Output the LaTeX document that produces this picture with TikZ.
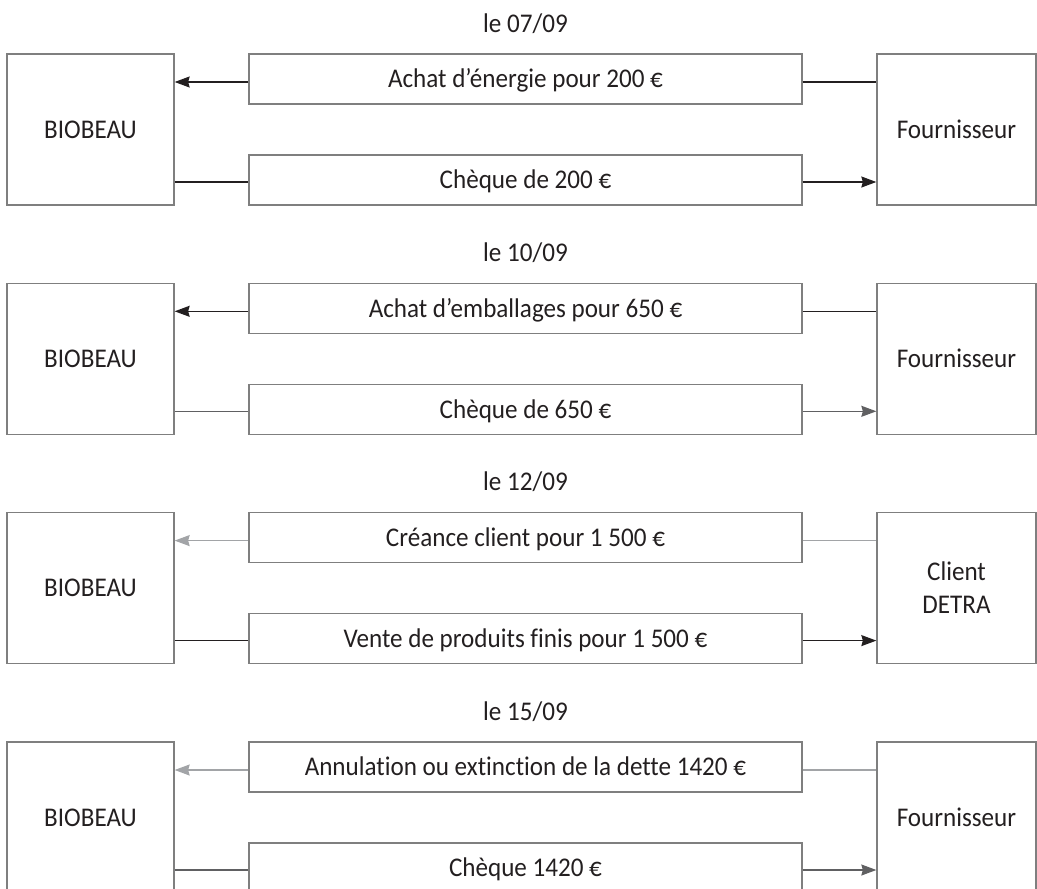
\documentclass[tikz,border=0pt]{standalone}
\usepackage{fontspec}
\setmainfont[FakeStretch=0.93, Ligatures=NoCommon]{Carlito}
\usetikzlibrary{arrows.meta}

\definecolor{ink}{HTML}{231F20}
\definecolor{frame}{HTML}{7F7F7F}
\definecolor{midgray}{HTML}{606062}
\definecolor{lightgray}{HTML}{A2A4A7}

\tikzset{
  txt/.style={text=ink, font=\fontsize{27}{33}\selectfont},
  box/.style={txt, draw=frame, line width=1.3pt, inner sep=0pt, align=center},
  party/.style={box, minimum height=151pt},
  flowbox/.style={box, minimum width=553pt, minimum height=50pt,
                  text height=17.4pt, text depth=0pt},
  datelabel/.style={txt, inner sep=0pt, text height=19pt, text depth=0pt},
  link/.style={line width=1.3pt},
  tip/.style={-{Stealth[length=15pt,width=11pt,inset=1.5pt]}}
}

% One dated exchange: #1 id, #2 top edge, #3 date, #4 upper flow, #5 lower flow,
% #6 partner, #7 colour of upper flow, #8 colour of lower flow
\newcommand\exchange[8]{%
  \node[datelabel] (D#1) at (525.5,#2-31.5) {#3};
  \node[party, minimum width=167pt] (L#1) at (90.5,#2+75.5) {BIOBEAU};
  \node[party, minimum width=159pt] (R#1) at (956.5,#2+75.5) {#6};
  \node[flowbox] (T#1) at (525.5,#2+25) {#4};
  \node[flowbox] (B#1) at (525.5,#2+126) {#5};
  % upper flow: partner -> BIOBEAU
  \draw[link, draw=#7] ([yshift=-3pt]T#1.east) -- ([yshift=-3pt]T#1.east -| R#1.west);
  \draw[link, tip, draw=#7] ([yshift=-3pt]T#1.west) -- ([yshift=-3pt]T#1.west -| L#1.east);
  % lower flow: BIOBEAU -> partner
  \draw[link, draw=#8] ([yshift=-2pt]B#1.west -| L#1.east) -- ([yshift=-2pt]B#1.west);
  \draw[link, tip, draw=#8] ([yshift=-2pt]B#1.east) -- ([yshift=-2pt]B#1.east -| R#1.west);
}

\begin{document}
\begin{tikzpicture}[x=1pt, y=-1pt]
  \useasboundingbox (0,0) rectangle (1037,889);
  \clip (0,0) rectangle (1037,889);

  \exchange{1}{54}{le 07/09}{Achat d’énergie pour 200 €}{Chèque de 200 €}%
           {Fournisseur}{ink}{ink}
  \exchange{2}{283.3}{le 10/09}{Achat d’emballages pour 650 €}{Chèque de 650 €}%
           {Fournisseur}{ink}{midgray}
  \exchange{3}{512.6}{le 12/09}{Créance client pour 1 500 €}{Vente de produits finis pour 1 500 €}%
           {Client\\DETRA}{lightgray}{ink}
  \exchange{4}{742}{le 15/09}{Annulation ou extinction de la dette 1420 €}{Chèque 1420 €}%
           {Fournisseur}{lightgray}{midgray}
\end{tikzpicture}
\end{document}
